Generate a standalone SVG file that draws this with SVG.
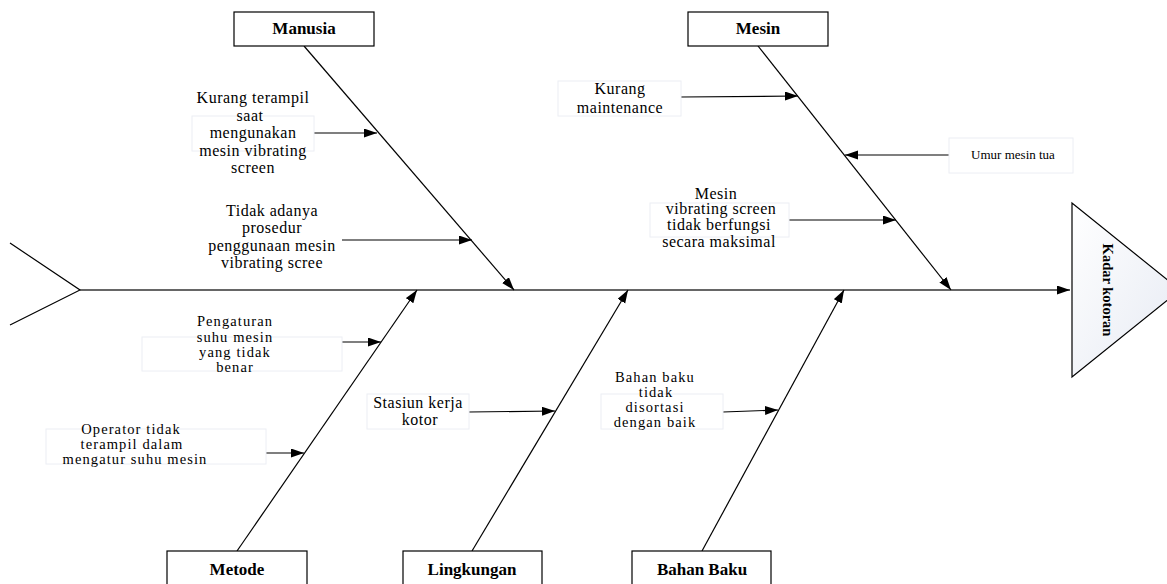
<svg xmlns="http://www.w3.org/2000/svg" width="1167" height="584" viewBox="0 0 1167 584">
<style>
.box{fill:#fff;stroke:#000;stroke-width:1.2}
.tb{fill:#fff;stroke:#eceef4;stroke-width:1}
.title{font-family:"Liberation Serif",serif;font-weight:bold;font-size:17px;text-anchor:middle;fill:#000}
.t{font-family:"Liberation Serif",serif;font-size:16px;letter-spacing:0.5px;text-anchor:middle;fill:#000}
.tn{font-family:"Liberation Serif",serif;font-size:14.5px;letter-spacing:1.1px;text-anchor:middle;fill:#000}
.ts{font-family:"Liberation Serif",serif;font-size:13px;text-anchor:middle;fill:#000}
.ln{stroke:#000;stroke-width:1.2;fill:none;marker-end:url(#ah)}
</style>
<defs>
<marker id="ah" markerUnits="userSpaceOnUse" markerWidth="14" markerHeight="10" refX="13" refY="4.5" orient="auto">
<path d="M0,0 L13,4.5 L0,9 z" fill="#000"/>
</marker>
<linearGradient id="hg" x1="0" y1="0" x2="1" y2="1">
<stop offset="0" stop-color="#ffffff"/>
<stop offset="1" stop-color="#e6eaf3"/>
</linearGradient>
</defs>
<rect width="1167" height="584" fill="#fff"/>

<g id="connectors">
<polyline points="10,243 80,290 10,325" fill="none" stroke="#000" stroke-width="1.2"/>
<line x1="80" y1="290" x2="1070" y2="290" stroke="#333" stroke-width="1.5" style="marker-end:url(#ah)"/>
<line class="ln" x1="304" y1="46" x2="514" y2="290"/>
<line class="ln" x1="758" y1="46" x2="951" y2="290"/>
<line class="ln" x1="237" y1="551" x2="417" y2="290"/>
<line class="ln" x1="472" y1="551" x2="628" y2="290"/>
<line class="ln" x1="702" y1="551" x2="844" y2="290"/>
<line class="ln" x1="314" y1="133" x2="377" y2="133"/>
<line class="ln" x1="342" y1="240" x2="472" y2="240"/>
<line class="ln" x1="681" y1="97" x2="798" y2="96"/>
<line class="ln" x1="949" y1="155" x2="845" y2="155"/>
<line class="ln" x1="789" y1="220" x2="896" y2="220"/>
<line class="ln" x1="289" y1="342" x2="381" y2="342"/>
<line class="ln" x1="212" y1="453" x2="304" y2="453"/>
<line class="ln" x1="469" y1="412" x2="555" y2="411"/>
<line class="ln" x1="723" y1="412" x2="778" y2="410"/>
</g>

<g id="head">
<polygon points="1072,203 1072,377 1180,290" fill="url(#hg)" stroke="#000" stroke-width="1.2"/>
<text transform="translate(1103,290) rotate(90)" font-family="Liberation Serif, serif" font-weight="bold" font-size="14.5" text-anchor="middle">Kadar kotoran</text>
</g>

<g id="manusia"><rect class="box" x="234" y="12" width="140" height="34"/><text class="title" x="304" y="34">Manusia</text></g>
<g id="mesin"><rect class="box" x="688" y="12" width="140" height="34"/><text class="title" x="758" y="34">Mesin</text></g>
<g id="metode"><rect class="box" x="167" y="551" width="140" height="40"/><text class="title" x="237" y="575">Metode</text></g>
<g id="lingkungan"><rect class="box" x="403" y="551" width="139" height="40"/><text class="title" x="472" y="575">Lingkungan</text></g>
<g id="bahanbaku"><rect class="box" x="632" y="551" width="139" height="40"/><text class="title" x="702" y="575">Bahan Baku</text></g>

<g id="c1">
<rect class="tb" x="192" y="116" width="122" height="35"/>
<text class="t" x="253" y="103">Kurang terampil</text>
<text class="t" x="250" y="121">saat</text>
<text class="t" x="253" y="138">mengunakan</text>
<text class="t" x="253" y="156">mesin vibrating</text>
<text class="t" x="253" y="173">screen</text>
</g>
<g id="c2">
<text class="t" x="272" y="216">Tidak adanya</text>
<text class="t" x="272" y="233">prosedur</text>
<text class="t" x="272" y="251">penggunaan mesin</text>
<text class="t" x="272" y="268">vibrating scree</text>
</g>
<g id="c3">
<rect class="tb" x="558" y="81" width="123" height="35"/>
<text class="t" x="620" y="94">Kurang</text>
<text class="t" x="620" y="113">maintenance</text>
</g>
<g id="c4">
<rect class="tb" x="949" y="138" width="124" height="35"/>
<text class="ts" x="1013" y="159">Umur mesin tua</text>
</g>
<g id="c5">
<rect class="tb" x="650" y="203" width="139" height="34"/>
<text class="t" x="716" y="199">Mesin</text>
<text class="t" x="721" y="214">vibrating screen</text>
<text class="t" x="719" y="230">tidak berfungsi</text>
<text class="t" x="719" y="247">secara maksimal</text>
</g>
<g id="c6">
<rect class="tb" x="142" y="337" width="200" height="34"/>
<text class="tn" x="235" y="326">Pengaturan</text>
<text class="tn" x="235" y="342">suhu mesin</text>
<text class="tn" x="235" y="357">yang tidak</text>
<text class="tn" x="235" y="372">benar</text>
</g>
<g id="c7">
<rect class="tb" x="46" y="429" width="220" height="35"/>
<text class="tn" x="131" y="434">Operator tidak</text>
<text class="tn" x="132" y="449">terampil dalam</text>
<text class="tn" x="135" y="464">mengatur suhu mesin</text>
</g>
<g id="c8">
<rect class="tb" x="367" y="394" width="102" height="35"/>
<text class="t" x="418" y="408">Stasiun kerja</text>
<text class="t" x="420" y="425">kotor</text>
</g>
<g id="c9">
<rect class="tb" x="601" y="394" width="122" height="35"/>
<text class="tn" x="655" y="382">Bahan baku</text>
<text class="tn" x="656" y="397">tidak</text>
<text class="tn" x="655" y="412">disortasi</text>
<text class="tn" x="655" y="427">dengan baik</text>
</g>
</svg>
